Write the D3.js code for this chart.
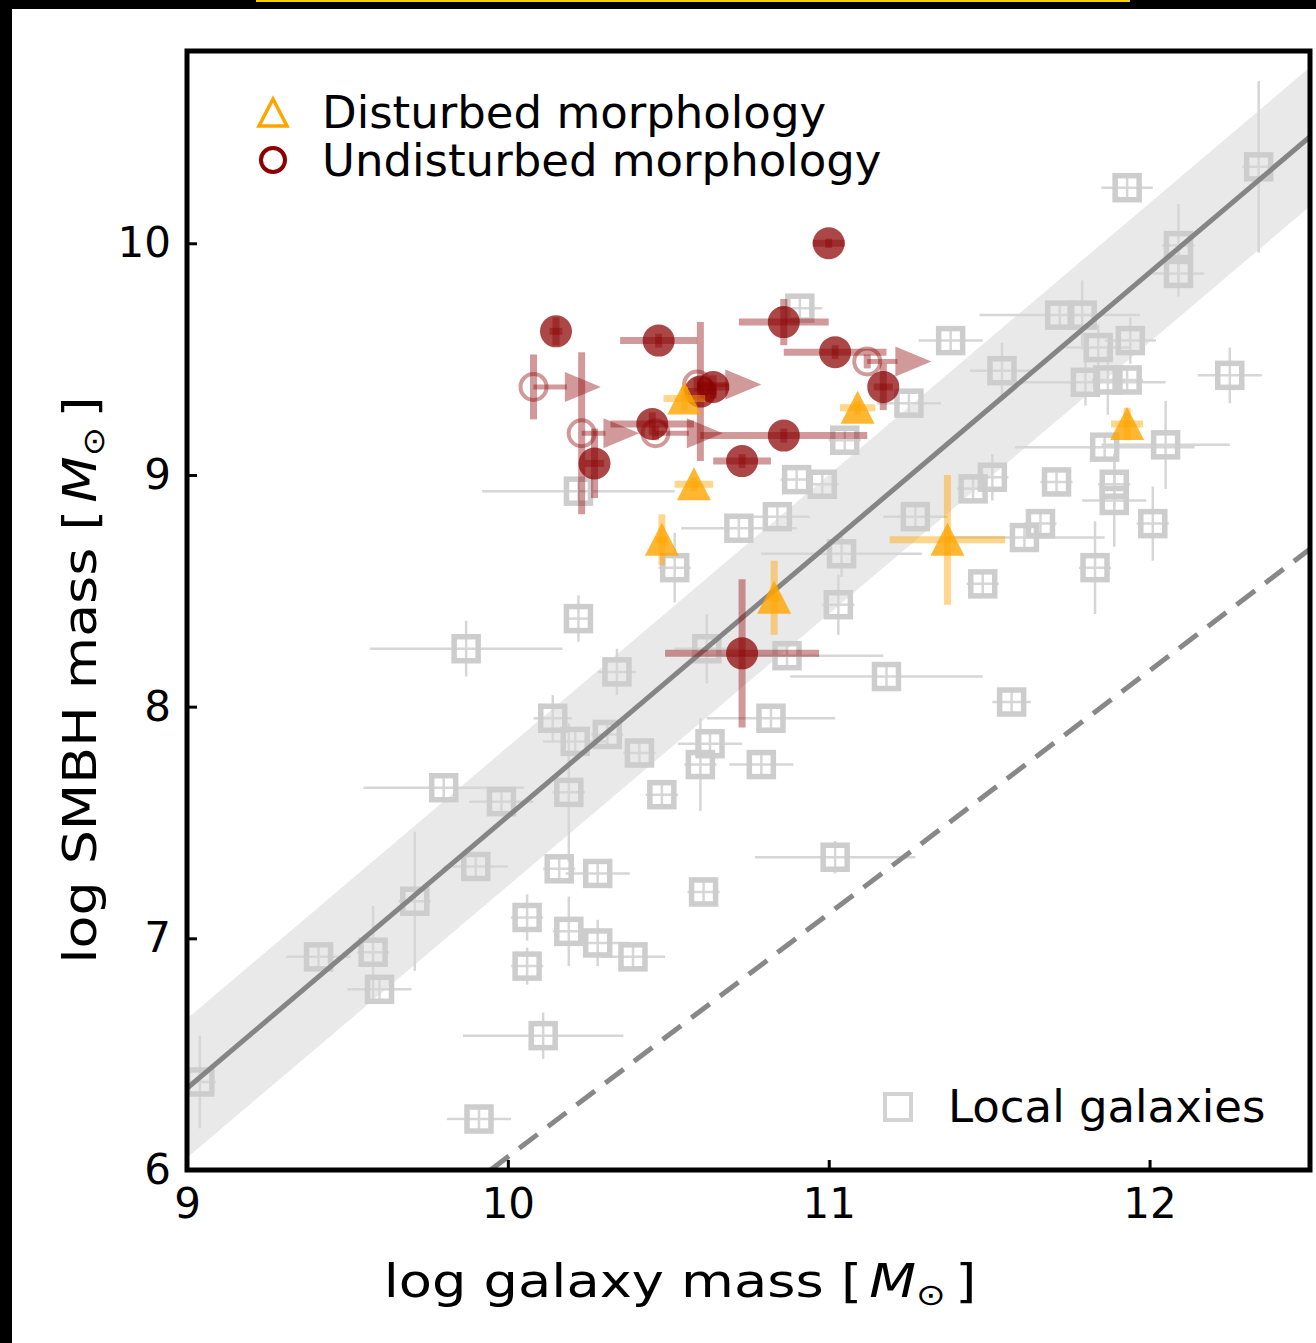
<!DOCTYPE html>
<html>
<head>
<meta charset="utf-8">
<script src="https://cdn.jsdelivr.net/npm/d3@7"></script>
<style>
  html, body { margin: 0; padding: 0; background: #fff; }
  svg { display: block; font-family: "DejaVu Sans", sans-serif; }
</style>
</head>
<body>
<svg id="chart" width="1316" height="1343"></svg>
<script>
const xTicks = [9, 10, 11, 12];
const yTicks = [6, 7, 8, 9, 10];

// [log M_gal, log M_BH, err M_gal, err M_BH]
const localGalaxies = [
  [11.93, 10.24, 0.08, 0.05], [12.34, 10.33, 0.05, 0.37], [12.09, 9.99, 0.05, 0.18],
  [12.09, 9.87, 0.08, 0.10], [11.72, 9.69, 0.25, 0.05], [11.79, 9.69, 0.05, 0.15],
  [11.38, 9.58, 0.10, 0.05], [11.84, 9.55, 0.10, 0.10], [11.94, 9.58, 0.08, 0.10],
  [11.80, 9.40, 0.25, 0.10], [11.87, 9.41, 0.05, 0.15], [11.93, 9.41, 0.05, 0.05],
  [11.54, 9.45, 0.10, 0.12], [12.25, 9.43, 0.10, 0.12], [11.25, 9.31, 0.10, 0.05],
  [10.91, 9.72, 0.07, 0.05], [11.05, 9.15, 0.05, 0.05], [12.05, 9.13, 0.20, 0.19],
  [11.86, 9.12, 0.28, 0.05], [11.71, 8.97, 0.05, 0.05], [11.45, 8.94, 0.05, 0.05],
  [11.51, 8.99, 0.05, 0.10], [11.89, 8.96, 0.05, 0.10], [11.89, 8.89, 0.10, 0.20],
  [12.01, 8.79, 0.05, 0.16], [11.27, 8.82, 0.10, 0.05], [11.61, 8.73, 0.25, 0.05],
  [11.66, 8.79, 0.05, 0.05], [11.83, 8.60, 0.05, 0.20], [11.48, 8.53, 0.05, 0.05],
  [11.57, 8.02, 0.06, 0.05], [11.18, 8.13, 0.30, 0.05], [10.22, 8.93, 0.30, 0.05],
  [10.72, 8.77, 0.18, 0.05], [10.84, 8.82, 0.10, 0.05], [10.90, 8.98, 0.05, 0.05],
  [10.98, 8.96, 0.05, 0.05], [10.52, 8.60, 0.05, 0.15], [11.04, 8.66, 0.25, 0.10],
  [11.03, 8.44, 0.05, 0.13], [10.22, 8.38, 0.03, 0.10], [9.87, 8.25, 0.30, 0.12],
  [10.34, 8.15, 0.06, 0.10], [10.62, 8.25, 0.10, 0.15], [10.87, 8.22, 0.30, 0.05],
  [10.14, 7.95, 0.06, 0.10], [10.21, 7.85, 0.10, 0.05], [10.31, 7.88, 0.05, 0.05],
  [10.41, 7.80, 0.05, 0.05], [10.82, 7.95, 0.20, 0.05], [10.63, 7.84, 0.10, 0.05],
  [10.60, 7.75, 0.05, 0.20], [10.79, 7.75, 0.10, 0.05], [9.80, 7.65, 0.25, 0.05],
  [9.98, 7.59, 0.10, 0.05], [10.19, 7.63, 0.05, 0.30], [10.48, 7.62, 0.05, 0.05],
  [9.90, 7.31, 0.10, 0.05], [10.16, 7.30, 0.05, 0.05], [10.28, 7.28, 0.10, 0.05],
  [11.02, 7.35, 0.25, 0.07], [10.61, 7.20, 0.05, 0.05], [9.71, 7.16, 0.05, 0.30],
  [9.41, 6.92, 0.10, 0.05], [9.58, 6.94, 0.05, 0.20], [9.60, 6.78, 0.10, 0.05],
  [10.06, 7.09, 0.05, 0.10], [10.19, 7.03, 0.05, 0.15], [10.28, 6.98, 0.10, 0.10],
  [10.06, 6.88, 0.05, 0.08], [10.39, 6.92, 0.10, 0.05], [10.11, 6.58, 0.25, 0.10],
  [9.91, 6.22, 0.10, 0.05], [9.04, 6.38, 0.05, 0.20]
];

// undisturbed, detected: [log M_gal, log M_BH, err M_gal, err M_BH]
const undisturbed = [
  [11.00, 10.00, 0.05, 0.02], [10.15, 9.62, 0.02, 0.06], [10.47, 9.58, 0.12, 0.03],
  [10.86, 9.66, 0.14, 0.10], [11.02, 9.53, 0.16, 0.03], [11.17, 9.38, 0.03, 0.10],
  [10.60, 9.36, 0.05, 0.30], [10.64, 9.38, 0.05, 0.05], [10.45, 9.22, 0.13, 0.05],
  [10.27, 9.05, 0.03, 0.15], [10.73, 9.06, 0.09, 0.03], [10.86, 9.17, 0.26, 0.03],
  [10.73, 8.23, 0.24, 0.32]
];

// undisturbed, galaxy mass lower limits: [log M_gal, log M_BH, arrow length, err M_BH]
const undisturbedLimits = [
  [10.08, 9.38, 0.21, 0.14], [10.23, 9.18, 0.18, 0.35], [10.46, 9.18, 0.21, 0.03],
  [11.12, 9.49, 0.20, 0.03], [10.59, 9.39, 0.20, 0.03]
];

// disturbed: [log M_gal, log M_BH, err M_gal, err M_BH]
const disturbed = [
  [10.55, 9.33, 0.065, 0.05], [11.09, 9.29, 0.055, 0.03], [10.58, 8.96, 0.06, 0.03],
  [10.48, 8.72, 0.02, 0.11], [10.83, 8.47, 0.02, 0.16], [11.37, 8.72, 0.18, 0.28],
  [11.93, 9.22, 0.05, 0.07]
];

const fitLine = [[9, 6.353], [12.5, 10.46]];
const fitScatter = 0.3;
const dashedLine = [[9.946, 6], [12.5, 8.68]];

const legendLabels = ['Disturbed morphology', 'Undisturbed morphology'];
const localLabel = 'Local galaxies';

const svg = d3.select('#chart');
const plot = { left: 187, right: 1310, top: 51, bottom: 1170 };

const x = d3.scaleLinear().domain([9, 12.5]).range([plot.left, plot.right]);
const y = d3.scaleLinear().domain([6, 10.83]).range([plot.bottom, plot.top]);

const RED = '#8b0000';
const ORANGE = '#ffa500';

// outer frame bits of the screenshot
svg.append('rect').attr('x', 0).attr('y', 0).attr('width', 1316).attr('height', 9).attr('fill', '#000');
svg.append('rect').attr('x', 0).attr('y', 0).attr('width', 12).attr('height', 1343).attr('fill', '#000');
svg.append('rect').attr('x', 256).attr('y', 0).attr('width', 874).attr('height', 2).attr('fill', '#f5d000');

svg.append('clipPath').attr('id', 'clip')
  .append('rect')
  .attr('x', plot.left).attr('y', plot.top)
  .attr('width', plot.right - plot.left).attr('height', plot.bottom - plot.top);

const g = svg.append('g').attr('clip-path', 'url(#clip)');

// scatter band around the fit
g.append('path')
  .datum(fitLine)
  .attr('d', d3.area().x(d => x(d[0])).y0(d => y(d[1] - fitScatter)).y1(d => y(d[1] + fitScatter)))
  .attr('fill', '#e9e9e9');

// local galaxies
const local = g.append('g');
local.selectAll('line.xe').data(localGalaxies).enter().append('line')
  .attr('x1', d => x(d[0] - d[2])).attr('x2', d => x(d[0] + d[2]))
  .attr('y1', d => y(d[1])).attr('y2', d => y(d[1]))
  .attr('stroke', '#d6d6d6').attr('stroke-width', 2.5);
local.selectAll('line.ye').data(localGalaxies).enter().append('line')
  .attr('x1', d => x(d[0])).attr('x2', d => x(d[0]))
  .attr('y1', d => y(d[1] - d[3])).attr('y2', d => y(d[1] + d[3]))
  .attr('stroke', '#d6d6d6').attr('stroke-width', 2.5);
local.selectAll('rect').data(localGalaxies).enter().append('rect')
  .attr('x', d => x(d[0]) - 12).attr('y', d => y(d[1]) - 12)
  .attr('width', 24).attr('height', 24)
  .attr('fill', 'none').attr('stroke', '#cdcdcd').attr('stroke-width', 5.5);

// relations
const line = d3.line().x(d => x(d[0])).y(d => y(d[1]));
g.append('path').datum(fitLine).attr('d', line)
  .attr('stroke', '#858585').attr('stroke-width', 5).attr('fill', 'none');
g.append('path').datum(dashedLine).attr('d', line)
  .attr('stroke', '#888').attr('stroke-width', 5).attr('fill', 'none')
  .attr('stroke-dasharray', '23 13');

// undisturbed detections
const und = g.append('g');
und.selectAll('line.xe').data(undisturbed).enter().append('line')
  .attr('x1', d => x(d[0] - d[2])).attr('x2', d => x(d[0] + d[2]))
  .attr('y1', d => y(d[1])).attr('y2', d => y(d[1]))
  .attr('stroke', RED).attr('stroke-opacity', 0.4).attr('stroke-width', 7);
und.selectAll('line.ye').data(undisturbed).enter().append('line')
  .attr('x1', d => x(d[0])).attr('x2', d => x(d[0]))
  .attr('y1', d => y(d[1] - d[3])).attr('y2', d => y(d[1] + d[3]))
  .attr('stroke', RED).attr('stroke-opacity', 0.4).attr('stroke-width', 7);
und.selectAll('circle').data(undisturbed).enter().append('circle')
  .attr('cx', d => x(d[0])).attr('cy', d => y(d[1])).attr('r', 16)
  .attr('fill', RED).attr('fill-opacity', 0.72);

// undisturbed mass lower limits
const lim = g.append('g');
lim.selectAll('line.ye').data(undisturbedLimits).enter().append('line')
  .attr('x1', d => x(d[0])).attr('x2', d => x(d[0]))
  .attr('y1', d => y(d[1] - d[3])).attr('y2', d => y(d[1] + d[3]))
  .attr('stroke', RED).attr('stroke-opacity', 0.4).attr('stroke-width', 7);
lim.selectAll('line.xe').data(undisturbedLimits).enter().append('line')
  .attr('x1', d => x(d[0])).attr('x2', d => x(d[0] + d[2]) - 34)
  .attr('y1', d => y(d[1])).attr('y2', d => y(d[1]))
  .attr('stroke', RED).attr('stroke-opacity', 0.4).attr('stroke-width', 5);
lim.selectAll('path').data(undisturbedLimits).enter().append('path')
  .attr('d', d => {
    const tx = x(d[0] + d[2]), ty = y(d[1]);
    return `M${tx},${ty}L${tx - 36},${ty - 15}L${tx - 36},${ty + 15}Z`;
  })
  .attr('fill', RED).attr('fill-opacity', 0.4);
lim.selectAll('circle').data(undisturbedLimits).enter().append('circle')
  .attr('cx', d => x(d[0])).attr('cy', d => y(d[1])).attr('r', 13)
  .attr('fill', 'none').attr('stroke', RED).attr('stroke-opacity', 0.4).attr('stroke-width', 4);

// disturbed
const dis = g.append('g');
dis.selectAll('line.xe').data(disturbed).enter().append('line')
  .attr('x1', d => x(d[0] - d[2])).attr('x2', d => x(d[0] + d[2]))
  .attr('y1', d => y(d[1])).attr('y2', d => y(d[1]))
  .attr('stroke', ORANGE).attr('stroke-opacity', 0.45).attr('stroke-width', 7);
dis.selectAll('line.ye').data(disturbed).enter().append('line')
  .attr('x1', d => x(d[0])).attr('x2', d => x(d[0]))
  .attr('y1', d => y(d[1] - d[3])).attr('y2', d => y(d[1] + d[3]))
  .attr('stroke', ORANGE).attr('stroke-opacity', 0.45).attr('stroke-width', 7);
dis.selectAll('path').data(disturbed).enter().append('path')
  .attr('d', d => {
    const cx = x(d[0]), cy = y(d[1]);
    return `M${cx},${cy - 17}L${cx + 17},${cy + 16}L${cx - 17},${cy + 16}Z`;
  })
  .attr('fill', ORANGE).attr('fill-opacity', 0.8);

// axes box
svg.append('rect')
  .attr('x', plot.left).attr('y', plot.top)
  .attr('width', plot.right - plot.left).attr('height', plot.bottom - plot.top)
  .attr('fill', 'none').attr('stroke', '#000').attr('stroke-width', 5);

const styleAxis = sel => {
  sel.select('.domain').remove();
  sel.attr('font-family', '"DejaVu Sans", sans-serif');
  sel.selectAll('line').attr('stroke', '#000').attr('stroke-width', 3);
  sel.selectAll('text').attr('font-size', 42).attr('fill', '#000');
};

svg.append('g').attr('transform', `translate(${plot.left},0)`)
  .call(d3.axisLeft(y).tickValues(yTicks).tickFormat(d3.format('d'))
    .tickSizeInner(-10).tickSizeOuter(0).tickPadding(16))
  .call(styleAxis);

svg.append('g').attr('transform', `translate(0,${plot.bottom})`)
  .call(d3.axisBottom(x).tickValues(xTicks).tickFormat(d3.format('d'))
    .tickSizeInner(-10).tickSizeOuter(0).tickPadding(18))
  .call(styleAxis);

// axis labels (the reference renders them slightly stretched)
const addMassLabel = (sel, prefix) => {
  sel.append('tspan').text(prefix + ' [');
  sel.append('tspan').attr('font-style', 'italic').attr('dx', 6).text('M');
  sel.append('tspan').attr('font-size', 30).attr('dy', 8).text('⊙');
  sel.append('tspan').attr('dy', -8).attr('dx', 8).text(']');
};

svg.append('text')
  .attr('transform', 'translate(680,1297) scale(1.18,1)')
  .attr('text-anchor', 'middle').attr('font-size', 46)
  .call(addMassLabel, 'log galaxy mass');

svg.append('text')
  .attr('transform', 'translate(96,680) rotate(-90) scale(1.17,1)')
  .attr('text-anchor', 'middle').attr('font-size', 46)
  .call(addMassLabel, 'log SMBH mass');

// legend, top left
const leg = svg.append('g');
leg.append('path')
  .attr('d', 'M273,99L287,126L259,126Z')
  .attr('fill', 'none').attr('stroke', ORANGE).attr('stroke-width', 3.5);
leg.append('circle').attr('cx', 273).attr('cy', 160).attr('r', 12)
  .attr('fill', 'none').attr('stroke', RED).attr('stroke-width', 4);
leg.selectAll('text').data(legendLabels).enter().append('text')
  .attr('x', 322).attr('y', (d, i) => 128 + i * 48)
  .attr('font-size', 45).attr('fill', '#000')
  .text(d => d);

// legend, bottom right
svg.append('rect').attr('x', 885).attr('y', 1094).attr('width', 26).attr('height', 26)
  .attr('fill', 'none').attr('stroke', '#d3d3d3').attr('stroke-width', 4);
svg.append('text').attr('x', 948).attr('y', 1122)
  .attr('font-size', 45).attr('fill', '#000').text(localLabel);
</script>
</body>
</html>
